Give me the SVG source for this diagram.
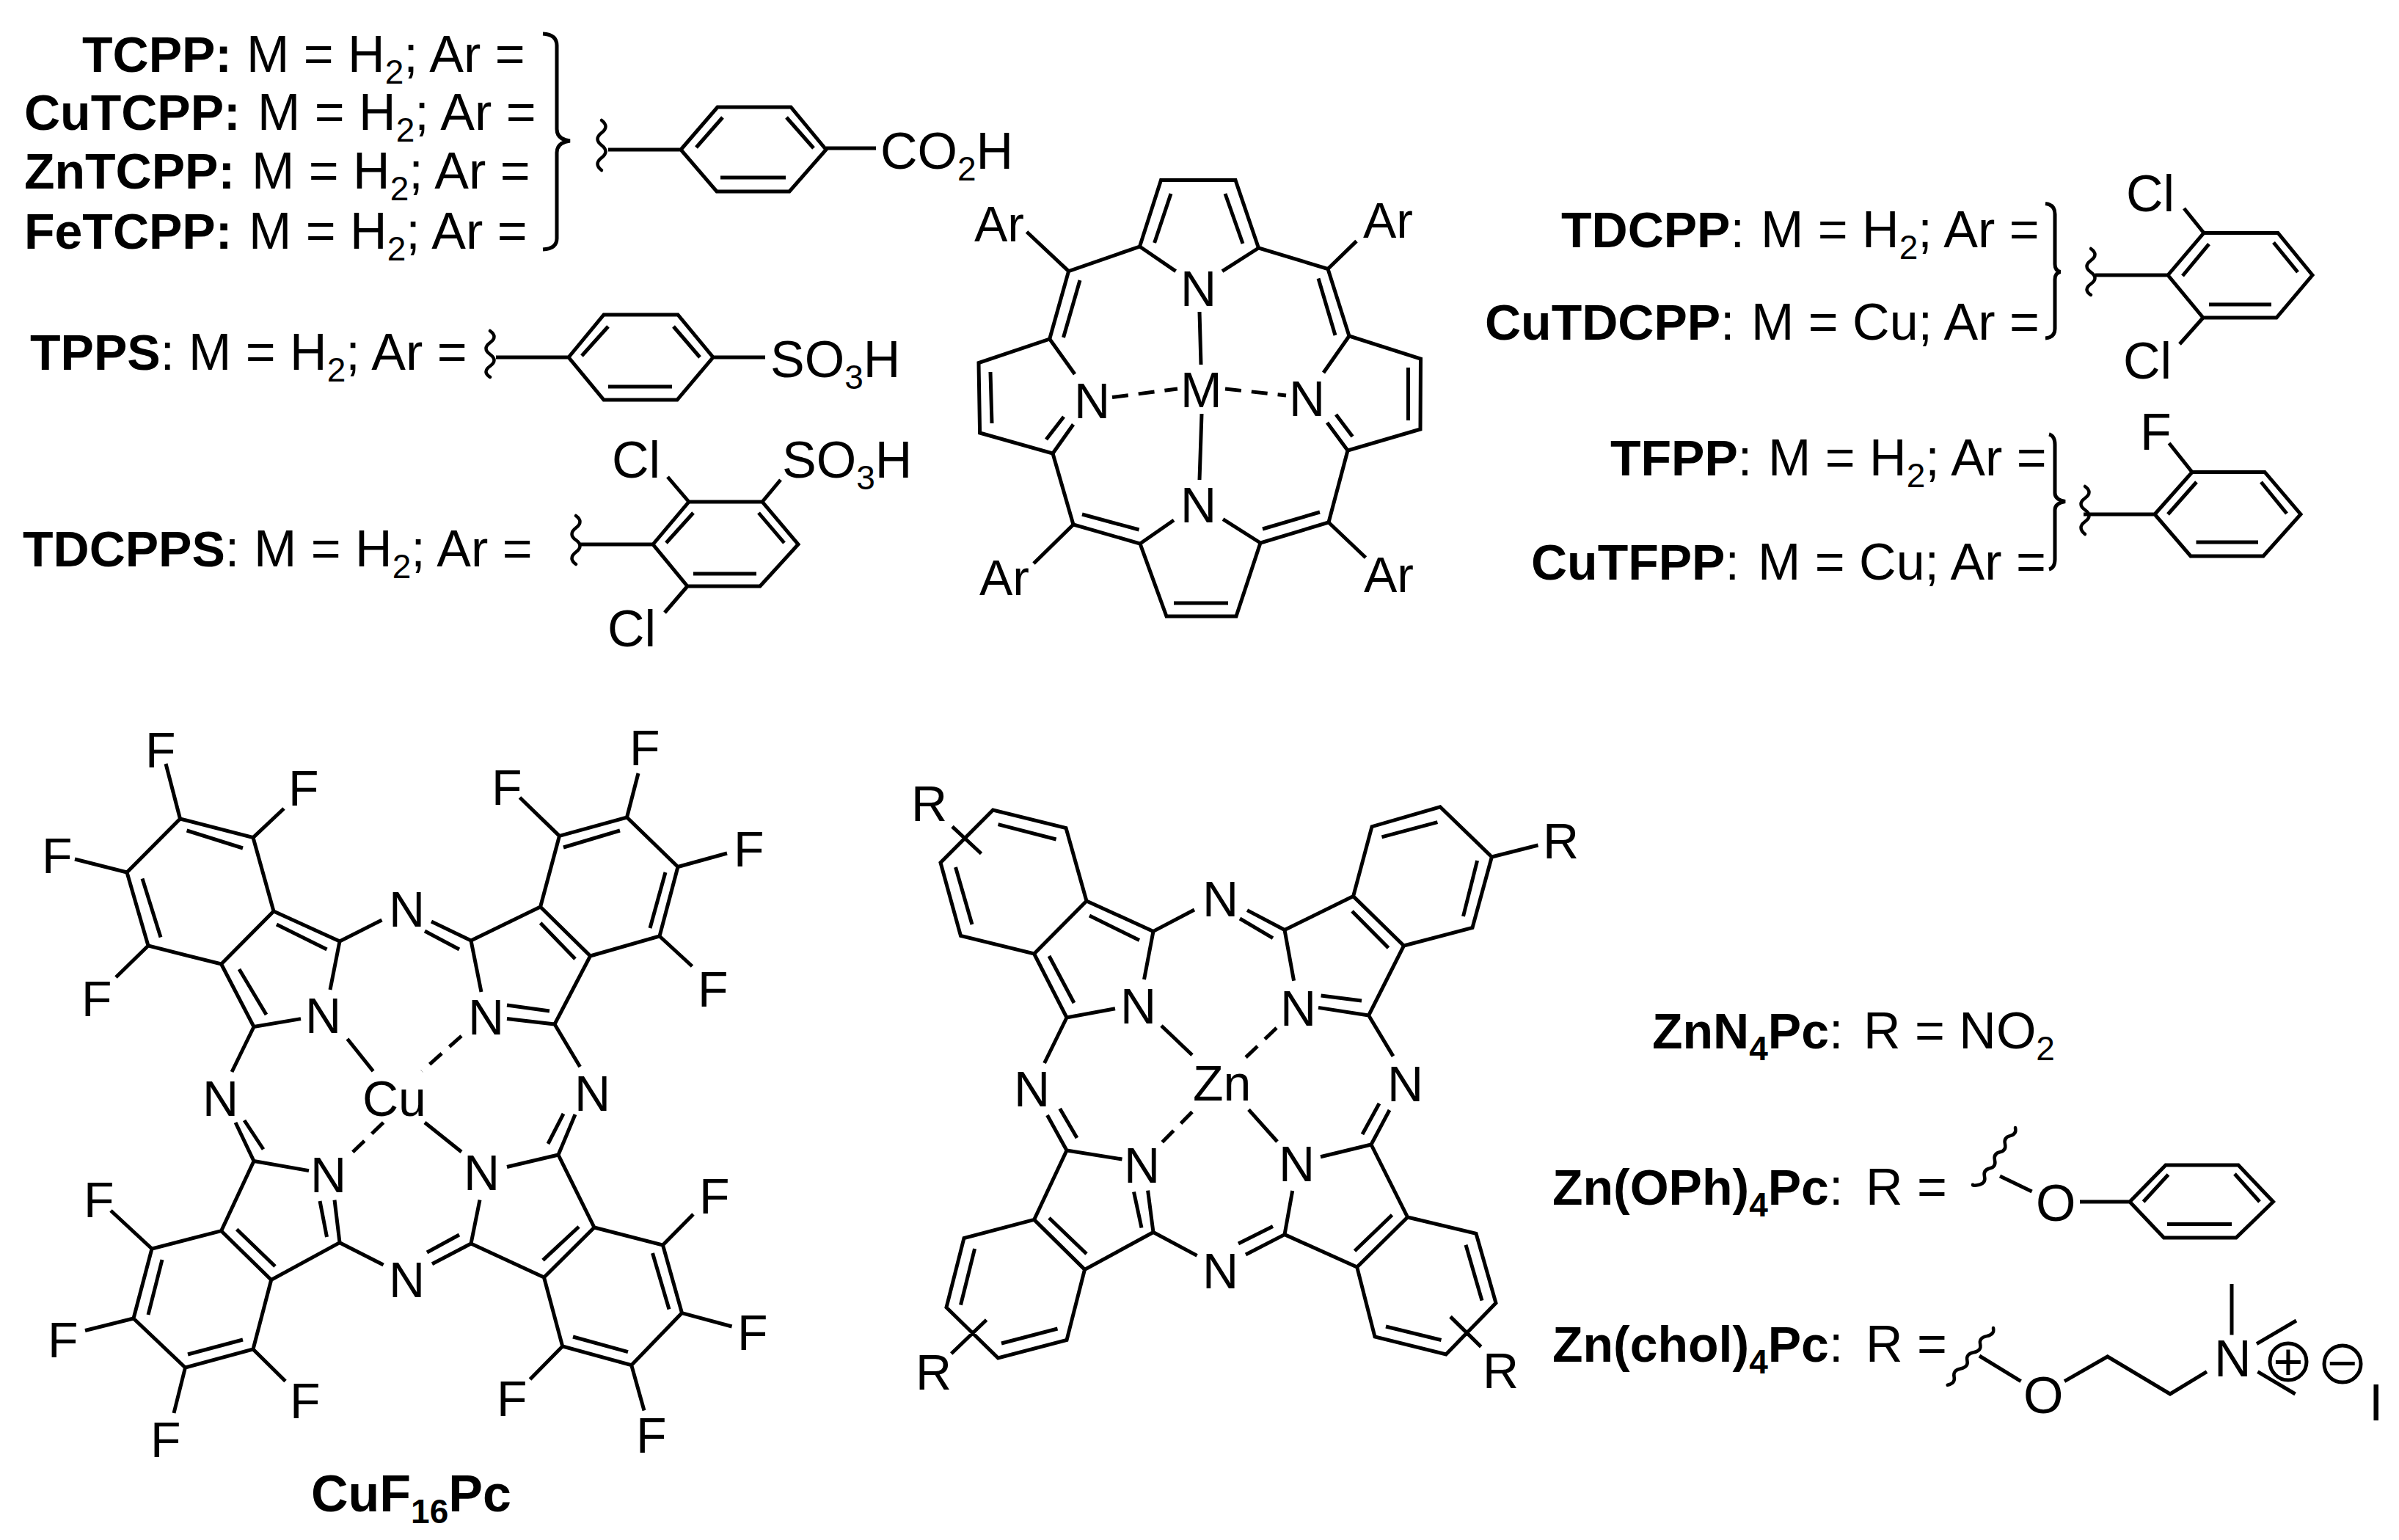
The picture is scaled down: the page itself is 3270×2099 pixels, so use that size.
<svg xmlns="http://www.w3.org/2000/svg" width="3270" height="2099" viewBox="0 0 3270 2099">
<style>
text{font-family:"Liberation Sans",Arial,sans-serif;font-size:70px;fill:#000}
#porphyrin text,#cuf16pc text,#znpc text{font-size:68px}
.h{font-weight:bold;font-size:68px}
.s{font-size:46px}
.l{fill:none;stroke:#000;stroke-width:5;stroke-linejoin:miter;stroke-linecap:butt}
.d{stroke-dasharray:22 14}
.w{stroke-width:4.5;stroke-linecap:round}
.c{text-anchor:middle}
</style>
<rect width="3270" height="2099" fill="#fff"/>
<g id="tcpp-series">
<text x="112" y="98" class="h">TCPP:</text><text x="336" y="98">M = H<tspan class="s" dy="16">2</tspan><tspan dy="-16">; Ar =</tspan></text>
<text x="33" y="177" class="h">CuTCPP:</text><text x="351" y="177">M = H<tspan class="s" dy="16">2</tspan><tspan dy="-16">; Ar =</tspan></text>
<text x="33" y="257" class="h">ZnTCPP:</text><text x="343" y="257">M = H<tspan class="s" dy="16">2</tspan><tspan dy="-16">; Ar =</tspan></text>
<text x="33" y="339" class="h">FeTCPP:</text><text x="339" y="339">M = H<tspan class="s" dy="16">2</tspan><tspan dy="-16">; Ar =</tspan></text>
<path class="l" d="M740 46Q759 47 759 62V176Q759 190 777 192Q759 194 759 208V325Q759 339 740 340"/>
<path class="l w" d="M820 164q11 8.5 0 17t0 17t0 17t0 17"/>
<path class="l" d="M829 204H928M928 204L978 146H1078L1126 204L1076 261H977ZM949 201L985 160M1072 160L1109 202M982 242H1071M1126 202H1194"/>
<text x="1200" y="230">CO<tspan class="s" dy="16">2</tspan><tspan dy="-16">H</tspan></text>
</g>
<g id="tpps">
<text x="41" y="504"><tspan class="h">TPPS</tspan>: <tspan x="257">M = H</tspan><tspan class="s" dy="16">2</tspan><tspan dy="-16">; Ar =</tspan></text>
<path class="l w" d="M668 451q11 8 0 16t0 16t0 16t0 15"/>
<path class="l" d="M676 487H775M775 487L823 429H924L972 487L923 545H823ZM793 485L829 445M918 445L954 487M829 527H916M972 487H1043"/>
<text x="1050" y="514">SO<tspan class="s" dy="16">3</tspan><tspan dy="-16">H</tspan></text>
</g>
<g id="tdcpps">
<text x="31" y="772"><tspan class="h">TDCPPS</tspan>: <tspan x="346">M = H</tspan><tspan class="s" dy="16">2</tspan><tspan dy="-16">; Ar =</tspan></text>
<path class="l w" d="M785 703q11 8 0 16.5t0 16.5t0 16.5t0 16.5"/>
<path class="l" d="M790 742H890M890 742L939 684H1039L1088 742L1036 799H937ZM908 740L945 699M1034 699L1069 740M945 782H1031M910 650L939 684M1039 684L1064 654M937 799L906 835"/>
<text x="834" y="651">Cl</text>
<text x="1066" y="651">SO<tspan class="s" dy="16">3</tspan><tspan dy="-16">H</tspan></text>
<text x="828" y="881">Cl</text>
</g>
<g id="porphyrin">
<path class="l" d="M1553.5 336L1582.5 245.5H1684L1715.5 338L1810 366.5L1839 458L1936.5 489L1936 585L1837 614L1811 712L1718 740L1685 840H1590L1554 741L1463 715L1435 618L1335.6 590L1334 494.6L1430.7 462L1456.6 369.6Z"/>
<path class="l" d="M1596 264L1573.6 331M1670 264L1694 332M1472 382L1449.5 460M1797 379.5L1820 457M1350 507L1352 577M1919.5 501V573M1553.5 336L1602.6 369.6M1715.5 338L1666 369.6M1430.7 462L1465 510M1839 458L1804 508M1435 618L1463 578.5M1426 599L1450 568M1837 614L1809 576M1843.6 595L1821 565M1475 701L1552.6 722M1799 698L1721 721M1554 741L1600 709M1718 740L1667 707.6M1600 822H1674M1456.6 369.6L1399.5 316M1810 366.5L1849 328.6M1463 715L1409 768M1811 712L1861.5 760M1635 425L1637 497M1638 564L1635 654"/>
<path class="l d" d="M1516 541.5L1605 530M1670 530L1753 539"/>
<text x="1328" y="329">Ar</text><text x="1858" y="324">Ar</text><text x="1335" y="811">Ar</text><text x="1859" y="807">Ar</text>
<text x="1609" y="417">N</text><text x="1609" y="555">M</text><text x="1464" y="570">N</text><text x="1757" y="567">N</text><text x="1609" y="712">N</text>
</g>
<g id="tdcpp-series">
<text x="2128" y="337"><tspan class="h">TDCPP</tspan>: <tspan x="2400">M = H</tspan><tspan class="s" dy="16">2</tspan><tspan dy="-16">; Ar =</tspan></text>
<text x="2024" y="463"><tspan class="h">CuTDCPP</tspan>: <tspan x="2387">M = Cu; Ar =</tspan></text>
<path class="l" d="M2788 277.5Q2801 279 2801 292V360Q2801 369 2808.5 370.5Q2801 372 2801 381V448Q2801 460 2788 461"/>
<path class="l w" d="M2850 339q11 8 0 16t0 16t0 16t0 15"/>
<path class="l" d="M2856 375H2955M2955 375L3004 317.5H3105L3152 375L3103 433H3003ZM2975 376L3011 332.6M3099 330.5L3132 371M3011 415H3096M3004 317.5L2977 284M3003 433L2971 469"/>
<text x="2898" y="288">Cl</text><text x="2894" y="516">Cl</text>
</g>
<g id="tfpp-series">
<text x="2195" y="648"><tspan class="h">TFPP</tspan>: <tspan x="2410">M = H</tspan><tspan class="s" dy="16">2</tspan><tspan dy="-16">; Ar =</tspan></text>
<text x="2087" y="790"><tspan class="h">CuTFPP</tspan>: <tspan x="2396">M = Cu; Ar =</tspan></text>
<path class="l" d="M2793 592Q2801 594 2801 606V672Q2801 681 2815 683.5Q2801 686 2801 695V762Q2801 774 2793 776"/>
<path class="l w" d="M2842 663q11 8 0 16t0 16t0 16t0 17"/>
<path class="l" d="M2840 701H2937M2937 701L2988 643.5H3087L3136 701L3085 758H2986ZM2955 701L2994 657M3082 657L3117 700M2993.5 739H3078M2988 643.5L2956.6 604"/>
<text x="2917" y="613">F</text>
</g>
<g id="cuf16pc">
<path class="l" d="M373 1242L345 1141.6L245.5 1116L173 1189L202 1289L301.6 1314ZM254.6 1132L331 1156M194 1197.5L219 1277.5M373 1242L463 1283L450 1349M301.6 1314L346 1399.5L410 1388.6M326 1321L363 1383M377 1260L445.5 1294M463 1283L520.5 1254M588 1256L642 1282L656 1352M579 1269L626 1294M642 1282L736.6 1236L804.6 1303L756 1396L691 1388.6M691 1370L749 1378M736.6 1258L784 1307M736.6 1236L762.5 1139.4L854.5 1114L924 1181.5L899 1276L804.6 1303M768 1155L845 1132M907 1189L886 1265M245.5 1116L226 1041M345 1141.6L387 1102M173 1189L102 1171M202 1289L158 1332M762.5 1139.4L708.5 1087M854.5 1114L870 1054M924 1181.5L991 1163M899 1276L943.5 1317M473.5 1416L508.6 1460M579 1530L629 1570M346 1399.5L316 1461M321 1530L346 1582.5L421 1595.6M333 1527L359 1566.5M756 1396L790.6 1454M784 1519L761 1574L691 1590.5M768 1518L747 1559M346 1582.5L301.6 1677.7L369.7 1744.5L463 1693.7L456 1635.6M322.7 1675.5L375 1726M445.5 1686L436 1637M463 1693.7L522.6 1724M589 1722.7L642 1695L654 1635.6M582 1707L626 1683M642 1695L741.5 1741L810 1673L761 1574M740 1717.6L789 1672M301.6 1677.7L207 1702L182 1797L252.5 1864L345 1839L369.7 1744.5M221 1717L202 1792M256 1846L331 1826M810 1673L903.5 1697L929.5 1789.6L860.7 1860.7L766.7 1835L741.5 1741M889.5 1708L912 1784.5M856 1842.6L781 1822M207 1702L151 1650M182 1797L116 1813.5M252.5 1864L237 1926M345 1839L389 1882.5M903.5 1697L945 1655M929.5 1789.6L997.6 1808M860.7 1860.7L878 1922.5M766.7 1835L722.5 1880"/>
<path class="l d" d="M629 1412L575 1460M522.6 1530L477 1574"/>
<text x="416" y="1408">N</text><text x="530" y="1263">N</text><text x="638" y="1410">N</text><text x="276" y="1521">N</text><text x="783" y="1514">N</text><text x="423" y="1625">N</text><text x="632" y="1622">N</text><text x="530" y="1768">N</text><text x="494" y="1521">Cu</text>
<text x="198" y="1046">F</text><text x="393" y="1098">F</text><text x="57" y="1190">F</text><text x="111" y="1385">F</text><text x="670" y="1097">F</text><text x="858" y="1043">F</text><text x="1000" y="1181">F</text><text x="951" y="1372">F</text><text x="114" y="1659">F</text><text x="65" y="1850">F</text><text x="205" y="1986">F</text><text x="395" y="1933">F</text><text x="953" y="1654">F</text><text x="1005" y="1840">F</text><text x="867" y="1980">F</text><text x="677" y="1930">F</text>
<text x="424" y="2060" class="h" style="font-size:70px">CuF<tspan class="s" dy="16">16</tspan><tspan dy="-16">Pc</tspan></text>
</g>
<g id="znpc">
<path class="l" d="M1481 1228L1453 1128.6L1353.5 1104L1282 1175.7L1309.5 1275.5L1409.6 1300ZM1360.5 1123.7L1439.6 1144M1302.5 1182L1325 1260M1298 1126.7L1337.5 1163.5M1481 1228L1572 1269.4L1559.5 1335M1485 1248L1553 1281.6M1409.6 1300L1454 1387L1520 1374.7M1430 1303L1464 1367M1572 1269.4L1628 1240M1700 1240.6L1751 1267.5L1763.6 1336.7M1690 1252L1735 1278.6M1751 1267.5L1844.6 1221.6L1913.5 1289L1865.6 1384L1797 1373.4M1843 1242L1892.5 1292M1800.6 1357L1856 1364M1844.6 1221.6L1870 1126.7L1963 1099.8L2033.4 1168L2007 1264.5L1913.5 1289M1883.5 1140.8L1959.4 1120.6M2013.6 1173L1994.5 1249M2033.4 1168L2096.5 1152M1583 1398L1625 1438M1702 1512.4L1741 1556M1454 1387L1423.6 1449M1427.5 1520L1454 1568L1529.5 1580M1444.7 1511L1468 1551M1865.6 1384L1899 1439.6M1894 1513L1869 1560L1800 1576.7M1880 1504L1857 1546M1454 1568L1409.6 1662.4L1478.5 1730.4L1572 1679.5L1564.6 1622.6M1430 1660L1481 1709M1545.5 1624.4L1556 1673.4M1572 1679.5L1631.6 1711.4M1698 1710L1751 1682.6L1761.7 1623M1688 1695L1735 1671.6M1751 1682.6L1849.7 1727L1918.6 1659L1869 1560M1846.5 1705L1897.5 1656M1409.6 1662.4L1314 1687.5L1290 1782L1360.5 1851L1454 1826.5L1478.5 1730.4M1328.6 1702L1309.5 1778.7M1365 1831L1441.5 1811M1344.6 1799L1296.7 1845M1918.6 1659L2012 1681.4L2039 1776L1971 1846L1874 1822L1849.7 1727M1998 1696.7L2020 1772.6M1964.5 1826.5L1889 1808M1977 1794.6L2018.7 1835.6"/>
<path class="l d" d="M1740 1401L1690 1449M1625 1515.5L1583 1558"/>
<text x="1527" y="1395">N</text><text x="1639" y="1249">N</text><text x="1745" y="1398">N</text><text x="1382" y="1508">N</text><text x="1891" y="1501">N</text><text x="1532" y="1612">N</text><text x="1743" y="1610">N</text><text x="1639" y="1756">N</text><text x="1626" y="1500">Zn</text>
<text x="1242" y="1119">R</text><text x="2103" y="1170">R</text><text x="1248" y="1894">R</text><text x="2021" y="1892">R</text>
</g>
<g id="zn-labels">
<text x="2252" y="1429"><tspan class="h">ZnN</tspan><tspan class="h s" dy="16">4</tspan><tspan class="h" dy="-16">Pc</tspan>: <tspan x="2540">R = NO</tspan><tspan class="s" dy="16">2</tspan></text>
<text x="2116" y="1642"><tspan class="h">Zn(OPh)</tspan><tspan class="h s" dy="16">4</tspan><tspan class="h" dy="-16">Pc</tspan>: <tspan x="2543">R =</tspan></text>
<path class="l w" d="M2747 1537q2 9 -7 11.1t-7 11.1t-7 11.1t-7 11.1t-7 11.1t-7 11.1t-7 11.1t-9 0"/>
<path class="l" d="M2726 1603L2769.6 1624M2835 1638H2903M2903 1638L2952 1588H3051L3098.5 1638L3048 1687H2949.5ZM2921.6 1638L2955.5 1601M3046 1600L3080 1638M2954 1668.4H3042"/>
<text x="2775" y="1664">O</text>
<text x="2116" y="1856"><tspan class="h">Zn(chol)</tspan><tspan class="h s" dy="16">4</tspan><tspan class="h" dy="-16">Pc</tspan>: <tspan x="2543">R =</tspan></text>
<path class="l w" d="M2717 1810q2 9 -8.9 11.1t-8.9 11.1t-8.9 11.1t-8.9 11.1t-8.9 11.1t-8.9 11.1t-8.9 11.1"/>
<path class="l" d="M2698 1848L2754.6 1882.6M2814 1882.6L2872.7 1849L2958 1900L3008 1869.6M3042 1750V1819.4M3076 1831.7L3130 1800M3077.4 1869.6L3128.6 1900"/>
<text x="2758" y="1926">O</text><text x="3018" y="1876">N</text>
<circle class="l" cx="3119" cy="1856" r="25"/><circle class="l" cx="3193" cy="1859" r="25"/>
<text x="3119" y="1880" class="c">+</text><text x="3193" y="1882" class="c">−</text>
<text x="3229" y="1936">I</text>
</g>
</svg>
